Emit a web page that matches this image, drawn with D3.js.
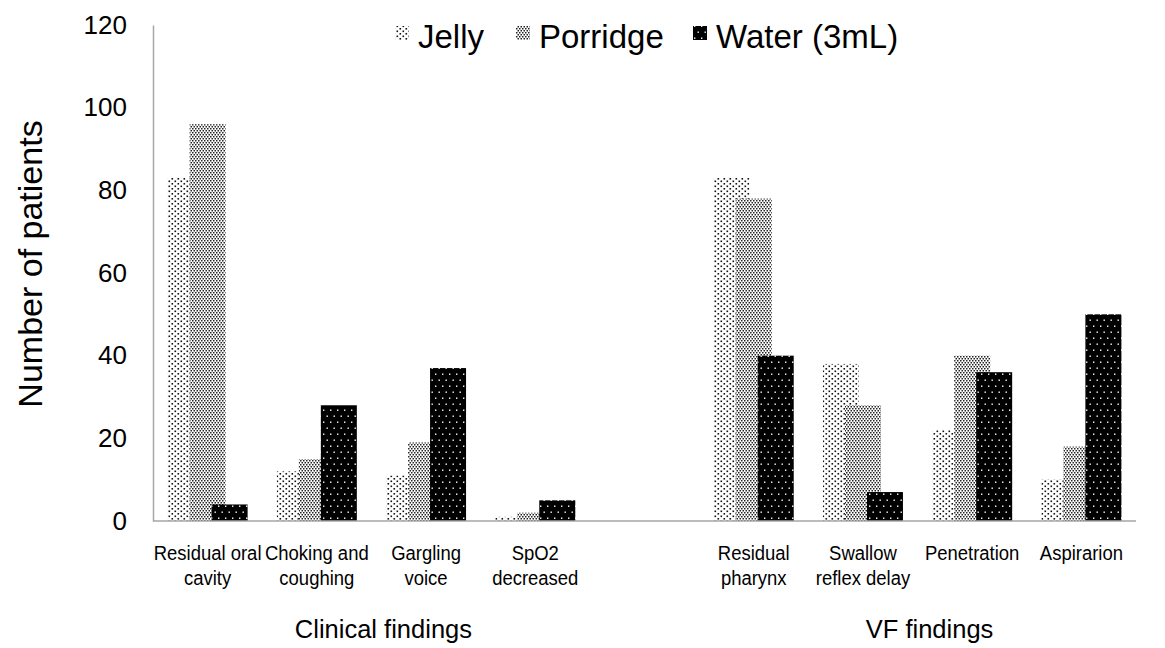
<!DOCTYPE html>
<html>
<head>
<meta charset="utf-8">
<script src="https://cdn.jsdelivr.net/npm/d3@7"></script>
<style>
  html, body { margin: 0; padding: 0; background: #fff; }
  svg { display: block; font-family: "Liberation Sans", Arial, sans-serif; }
</style>
</head>
<body>
<svg id="chart" width="1165" height="648"></svg>
<script>
// ---- data ----
const categories = ["Residual oral cavity", "Choking and coughing", "Gargling voice", "SpO2 decreased", "", "Residual pharynx", "Swallow reflex delay", "Penetration", "Aspirarion"];
const categoryLines = [["Residual oral", "cavity"], ["Choking and", "coughing"], ["Gargling", "voice"], ["SpO2", "decreased"], [], ["Residual", "pharynx"], ["Swallow", "reflex delay"], ["Penetration"], ["Aspirarion"]];
const seriesNames = ["Jelly", "Porridge", "Water (3mL)"];
const jelly    = [83, 12, 11, 1, null, 83, 38, 22, 10];
const porridge = [96, 15, 19, 2, null, 78, 28, 40, 18];
const water    = [4, 28, 37, 5, null, 40, 7, 36, 50];
const yTicks = [0, 20, 40, 60, 80, 100, 120];
const groupTitles = ["Clinical findings", "VF findings"];
const groupMembers = [[0, 1, 2, 3], [5, 6, 7, 8]];

// ---- layout ----
const svg = d3.select("#chart");
const plot = { left: 153, right: 1136, top: 25, bottom: 521 };

const x = d3.scaleBand().domain(d3.range(categories.length)).range([plot.left, plot.right]).padding(0);
const y = d3.scaleLinear().domain([0, 120]).range([plot.bottom, plot.top]);

const barW = 36, barStep = 22;

// ---- patterns ----
const defs = svg.append("defs");
const pJ = defs.append("pattern").attr("id", "pJelly").attr("patternUnits", "userSpaceOnUse").attr("width", 6).attr("height", 5);
pJ.append("rect").attr("width", 6).attr("height", 5).attr("fill", "#fff");
pJ.append("rect").attr("x", 0.5).attr("y", 0.5).attr("width", 1.6).attr("height", 1.6).attr("fill", "#111");
pJ.append("rect").attr("x", 3.5).attr("y", 3).attr("width", 1.6).attr("height", 1.6).attr("fill", "#111");

const pP = defs.append("pattern").attr("id", "pPorridge").attr("patternUnits", "userSpaceOnUse").attr("width", 3).attr("height", 4);
pP.append("rect").attr("width", 3).attr("height", 4).attr("fill", "#fff");
pP.append("rect").attr("x", 0).attr("y", 0).attr("width", 1.5).attr("height", 1.5).attr("fill", "#222");
pP.append("rect").attr("x", 1.5).attr("y", 2).attr("width", 1.5).attr("height", 1.5).attr("fill", "#222");

const pW = defs.append("pattern").attr("id", "pWater").attr("patternUnits", "userSpaceOnUse").attr("width", 7).attr("height", 12);
pW.append("rect").attr("width", 7).attr("height", 12).attr("fill", "#000");
pW.append("rect").attr("x", 1).attr("y", 1.5).attr("width", 1.4).attr("height", 1.4).attr("fill", "#fff");
pW.append("rect").attr("x", 4.5).attr("y", 7.5).attr("width", 1.4).attr("height", 1.4).attr("fill", "#fff");

const fills = ["url(#pJelly)", "url(#pPorridge)", "url(#pWater)"];
const series = [jelly, porridge, water];

// ---- axes ----
const yAxis = d3.axisLeft(y).tickValues(yTicks).tickSize(0).tickPadding(26);
const gy = svg.append("g").attr("transform", `translate(${plot.left},0)`).call(yAxis);
gy.select(".domain").attr("stroke", "#a6a6a6").attr("stroke-width", 1.5);
gy.selectAll("text").attr("font-size", 26).attr("fill", "#000").attr("font-family", "Liberation Sans, Arial, sans-serif");

// ---- bars ----
series.forEach((vals, si) => {
  svg.append("g").selectAll("rect")
    .data(vals.map((v, i) => ({ v, i })).filter(d => d.v !== null))
    .join("rect")
    .attr("x", d => x(d.i) + x.bandwidth() / 2 - (barW + 2 * barStep) / 2 + si * barStep)
    .attr("y", d => y(d.v))
    .attr("width", barW)
    .attr("height", d => y(0) - y(d.v))
    .attr("fill", fills[si]);
});

// x axis line over bars
svg.append("line")
  .attr("x1", plot.left).attr("x2", plot.right)
  .attr("y1", y(0)).attr("y2", y(0))
  .attr("stroke", "#a6a6a6").attr("stroke-width", 1.5);

// ---- category labels ----
categoryLines.forEach((lines, i) => {
  const cx = x(i) + x.bandwidth() / 2;
  const g = svg.append("g").attr("transform", `translate(${cx},560) scale(0.88,1)`);
  const t = g.append("text")
    .attr("x", 0).attr("y", 0)
    .attr("text-anchor", "middle")
    .attr("font-size", 21)
    .attr("fill", "#000");
  lines.forEach((ln, k) => {
    t.append("tspan").attr("x", 0).attr("dy", k === 0 ? 0 : 25).text(ln);
  });
});

// ---- group titles ----
groupTitles.forEach((gt, gi) => {
  const mem = groupMembers[gi];
  const cx = (x(mem[0]) + x(mem[mem.length - 1]) + x.bandwidth()) / 2 + 12;
  svg.append("text")
    .attr("x", cx).attr("y", 638)
    .attr("text-anchor", "middle")
    .attr("font-size", 25.5)
    .attr("fill", "#000")
    .text(gt);
});

// ---- y axis title ----
svg.append("text")
  .attr("transform", `translate(42,264) rotate(-90)`)
  .attr("text-anchor", "middle")
  .attr("font-size", 34)
  .attr("fill", "#000")
  .text("Number of patients");

// ---- legend ----
const legendX = [395, 516, 693];
seriesNames.forEach((name, si) => {
  svg.append("rect")
    .attr("x", legendX[si]).attr("y", 26)
    .attr("width", 14).attr("height", 14)
    .attr("fill", fills[si]);
  svg.append("text")
    .attr("x", legendX[si] + 23).attr("y", 48)
    .attr("font-size", 33)
    .attr("fill", "#000")
    .text(name);
});
</script>
</body>
</html>
